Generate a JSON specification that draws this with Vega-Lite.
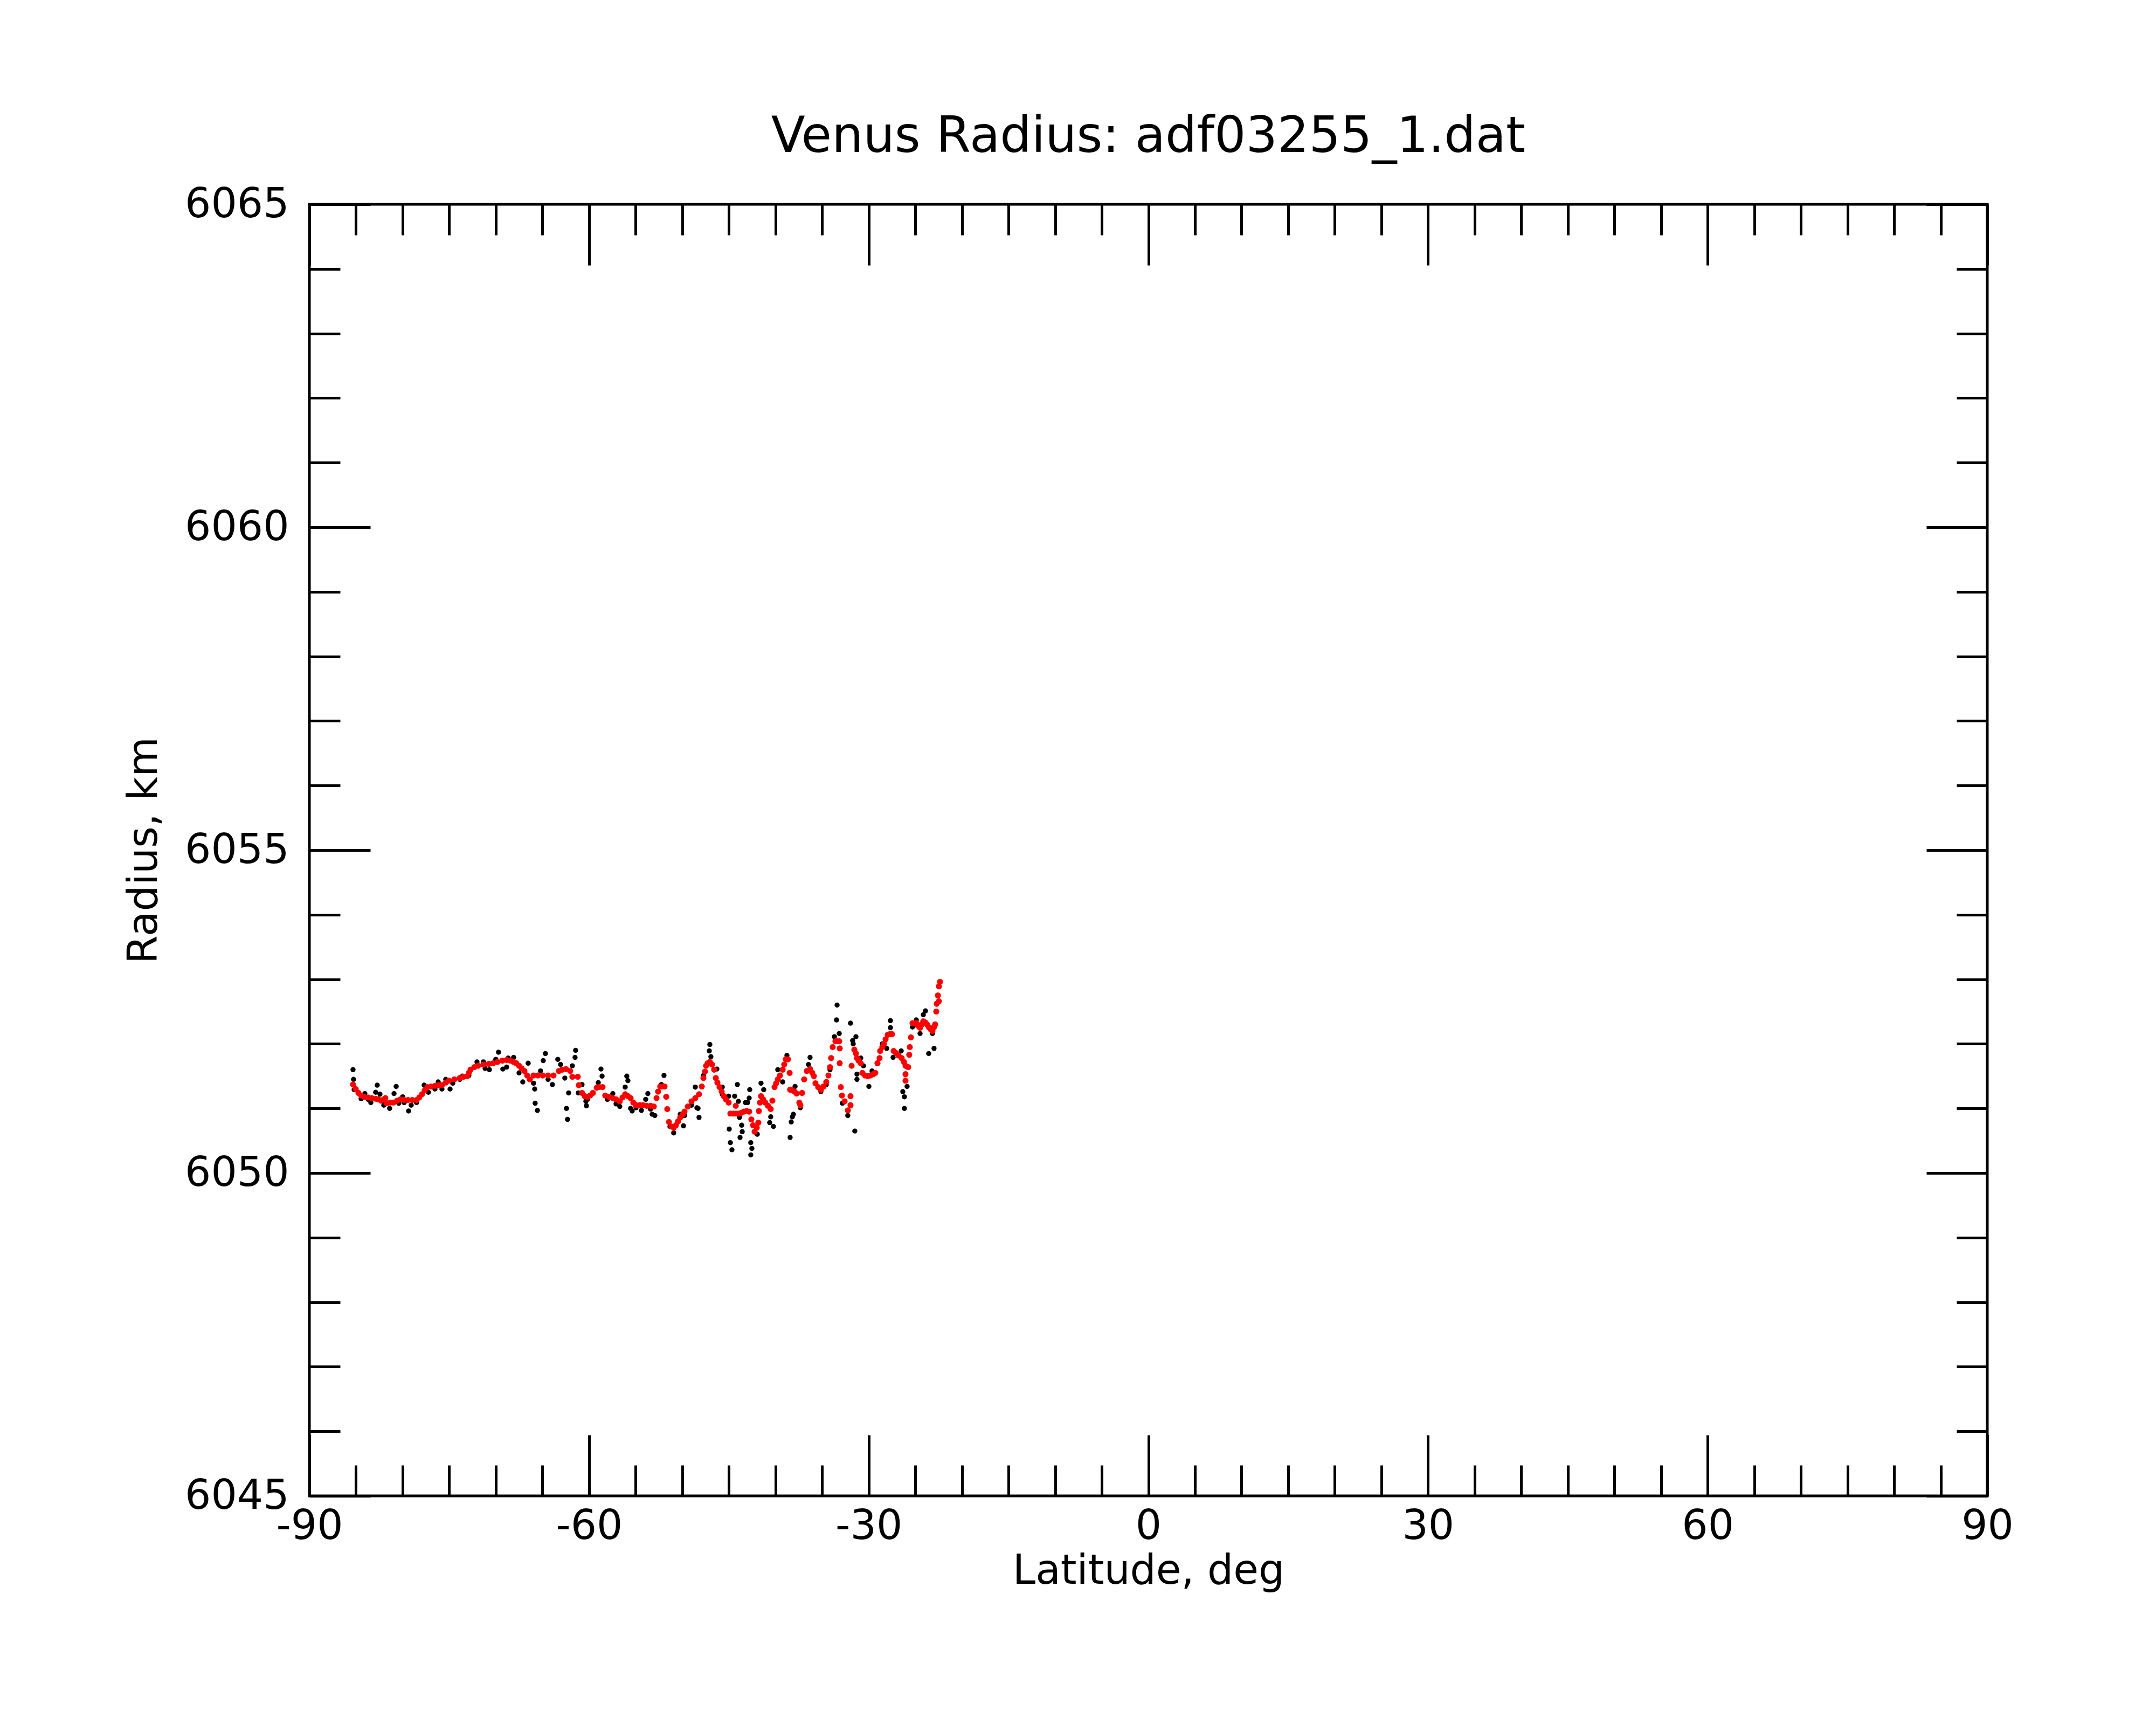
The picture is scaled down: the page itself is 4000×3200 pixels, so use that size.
{
  "$schema": "https://vega.github.io/schema/vega-lite/v6.json",
  "width": 3113,
  "height": 2396,
  "autosize": {"type": "none"},
  "padding": {"left": 574, "top": 379, "right": 313, "bottom": 425},
  "background": "white",
  "title": {
    "text": "Venus Radius: adf03255_1.dat",
    "font": "DejaVu Sans",
    "fontSize": 92,
    "fontWeight": "normal",
    "color": "black",
    "anchor": "middle",
    "baseline": "alphabetic",
    "offset": 97,
    "dy": 130
  },
  "datasets": {
    "raw": [
      {"lat": -85.32, "radius": 6051.60}, {"lat": -85.26, "radius": 6051.45}, {"lat": -85.20, "radius": 6051.29},
      {"lat": -84.45, "radius": 6051.15}, {"lat": -84.05, "radius": 6051.23}, {"lat": -83.70, "radius": 6051.14},
      {"lat": -83.41, "radius": 6051.09}, {"lat": -82.89, "radius": 6051.25}, {"lat": -82.72, "radius": 6051.36},
      {"lat": -82.43, "radius": 6051.22}, {"lat": -82.02, "radius": 6051.05}, {"lat": -81.85, "radius": 6051.07},
      {"lat": -81.39, "radius": 6051.00}, {"lat": -80.92, "radius": 6051.23}, {"lat": -80.69, "radius": 6051.34},
      {"lat": -80.41, "radius": 6051.08}, {"lat": -80.00, "radius": 6051.18}, {"lat": -79.83, "radius": 6051.09},
      {"lat": -79.36, "radius": 6050.96}, {"lat": -79.08, "radius": 6051.05}, {"lat": -78.50, "radius": 6051.09},
      {"lat": -77.69, "radius": 6051.36}, {"lat": -77.23, "radius": 6051.25}, {"lat": -76.53, "radius": 6051.30},
      {"lat": -76.18, "radius": 6051.41}, {"lat": -75.78, "radius": 6051.30}, {"lat": -75.37, "radius": 6051.45},
      {"lat": -74.91, "radius": 6051.30}, {"lat": -74.62, "radius": 6051.39}, {"lat": -73.87, "radius": 6051.45},
      {"lat": -73.58, "radius": 6051.50}, {"lat": -72.89, "radius": 6051.51}, {"lat": -72.02, "radius": 6051.72},
      {"lat": -71.33, "radius": 6051.72}, {"lat": -71.15, "radius": 6051.62}, {"lat": -70.69, "radius": 6051.60},
      {"lat": -70.00, "radius": 6051.76}, {"lat": -69.71, "radius": 6051.87}, {"lat": -69.25, "radius": 6051.61},
      {"lat": -68.84, "radius": 6051.64}, {"lat": -68.67, "radius": 6051.78}, {"lat": -68.09, "radius": 6051.79},
      {"lat": -67.51, "radius": 6051.55}, {"lat": -67.11, "radius": 6051.41}, {"lat": -66.53, "radius": 6051.70},
      {"lat": -65.95, "radius": 6051.39}, {"lat": -65.83, "radius": 6051.30}, {"lat": -65.78, "radius": 6051.08},
      {"lat": -65.54, "radius": 6050.97}, {"lat": -65.20, "radius": 6051.58}, {"lat": -64.91, "radius": 6051.74},
      {"lat": -64.68, "radius": 6051.85}, {"lat": -64.39, "radius": 6051.45}, {"lat": -63.93, "radius": 6051.37},
      {"lat": -63.35, "radius": 6051.76}, {"lat": -63.06, "radius": 6051.68}, {"lat": -62.60, "radius": 6051.47},
      {"lat": -62.42, "radius": 6051.00}, {"lat": -62.31, "radius": 6050.83}, {"lat": -62.19, "radius": 6051.24},
      {"lat": -61.79, "radius": 6051.66}, {"lat": -61.50, "radius": 6051.79}, {"lat": -61.44, "radius": 6051.90},
      {"lat": -61.15, "radius": 6051.24}, {"lat": -60.75, "radius": 6051.37}, {"lat": -60.34, "radius": 6051.11},
      {"lat": -60.28, "radius": 6051.04}, {"lat": -60.17, "radius": 6051.14}, {"lat": -59.01, "radius": 6051.40},
      {"lat": -58.72, "radius": 6051.61}, {"lat": -58.60, "radius": 6051.50}, {"lat": -58.03, "radius": 6051.14},
      {"lat": -57.45, "radius": 6051.23}, {"lat": -57.10, "radius": 6051.07}, {"lat": -56.70, "radius": 6051.03},
      {"lat": -56.12, "radius": 6051.33}, {"lat": -55.95, "radius": 6051.50}, {"lat": -55.83, "radius": 6051.43},
      {"lat": -55.54, "radius": 6051.00}, {"lat": -55.37, "radius": 6050.96}, {"lat": -54.96, "radius": 6051.01},
      {"lat": -54.38, "radius": 6050.97}, {"lat": -53.92, "radius": 6051.14}, {"lat": -53.69, "radius": 6051.23},
      {"lat": -53.40, "radius": 6050.99}, {"lat": -53.23, "radius": 6050.91}, {"lat": -52.94, "radius": 6050.89},
      {"lat": -52.24, "radius": 6051.37}, {"lat": -51.96, "radius": 6051.51}, {"lat": -51.32, "radius": 6050.72},
      {"lat": -50.92, "radius": 6050.62}, {"lat": -50.22, "radius": 6050.91}, {"lat": -49.87, "radius": 6050.73},
      {"lat": -49.76, "radius": 6050.89}, {"lat": -49.01, "radius": 6051.05}, {"lat": -48.60, "radius": 6051.33},
      {"lat": -48.43, "radius": 6051.01}, {"lat": -48.31, "radius": 6051.00}, {"lat": -48.20, "radius": 6050.86},
      {"lat": -47.73, "radius": 6051.51}, {"lat": -47.10, "radius": 6051.89}, {"lat": -47.04, "radius": 6051.99},
      {"lat": -46.93, "radius": 6051.80}, {"lat": -46.29, "radius": 6051.61}, {"lat": -45.71, "radius": 6051.33},
      {"lat": -45.71, "radius": 6051.22}, {"lat": -45.02, "radius": 6051.19}, {"lat": -44.96, "radius": 6050.68},
      {"lat": -44.84, "radius": 6050.47}, {"lat": -44.67, "radius": 6050.36}, {"lat": -44.38, "radius": 6051.19},
      {"lat": -44.09, "radius": 6051.37}, {"lat": -43.98, "radius": 6051.11}, {"lat": -43.86, "radius": 6050.86},
      {"lat": -43.80, "radius": 6050.55}, {"lat": -43.63, "radius": 6050.74}, {"lat": -43.57, "radius": 6050.64},
      {"lat": -43.22, "radius": 6051.09}, {"lat": -42.99, "radius": 6051.09}, {"lat": -42.82, "radius": 6051.16},
      {"lat": -42.76, "radius": 6051.29}, {"lat": -42.65, "radius": 6050.47}, {"lat": -42.53, "radius": 6050.38},
      {"lat": -42.65, "radius": 6050.28}, {"lat": -41.95, "radius": 6050.60}, {"lat": -41.55, "radius": 6051.39},
      {"lat": -41.26, "radius": 6051.29}, {"lat": -40.62, "radius": 6050.78}, {"lat": -40.51, "radius": 6050.87},
      {"lat": -40.22, "radius": 6050.72}, {"lat": -39.75, "radius": 6051.60}, {"lat": -39.23, "radius": 6051.41},
      {"lat": -38.77, "radius": 6051.82}, {"lat": -38.43, "radius": 6050.55}, {"lat": -38.31, "radius": 6050.79},
      {"lat": -38.19, "radius": 6050.87}, {"lat": -38.08, "radius": 6050.91}, {"lat": -37.90, "radius": 6051.34},
      {"lat": -37.33, "radius": 6051.01}, {"lat": -36.46, "radius": 6051.68}, {"lat": -36.29, "radius": 6051.79},
      {"lat": -35.13, "radius": 6051.26}, {"lat": -34.55, "radius": 6051.37}, {"lat": -34.15, "radius": 6051.60},
      {"lat": -33.68, "radius": 6052.11}, {"lat": -33.45, "radius": 6052.37}, {"lat": -33.39, "radius": 6052.60},
      {"lat": -33.16, "radius": 6052.16}, {"lat": -32.82, "radius": 6051.08}, {"lat": -32.24, "radius": 6050.89},
      {"lat": -31.95, "radius": 6052.32}, {"lat": -31.72, "radius": 6052.05}, {"lat": -31.66, "radius": 6052.00},
      {"lat": -31.49, "radius": 6050.65}, {"lat": -31.37, "radius": 6052.11}, {"lat": -31.26, "radius": 6051.53},
      {"lat": -31.26, "radius": 6051.45}, {"lat": -30.85, "radius": 6051.78}, {"lat": -30.56, "radius": 6051.66},
      {"lat": -29.98, "radius": 6051.34}, {"lat": -29.64, "radius": 6051.58}, {"lat": -28.54, "radius": 6052.00},
      {"lat": -28.07, "radius": 6051.93}, {"lat": -27.67, "radius": 6052.36}, {"lat": -27.67, "radius": 6052.25},
      {"lat": -27.38, "radius": 6051.79}, {"lat": -26.51, "radius": 6051.89}, {"lat": -26.34, "radius": 6051.26},
      {"lat": -26.17, "radius": 6051.18}, {"lat": -26.17, "radius": 6051.00}, {"lat": -25.88, "radius": 6051.34},
      {"lat": -25.30, "radius": 6052.26}, {"lat": -24.89, "radius": 6052.37}, {"lat": -24.49, "radius": 6052.16},
      {"lat": -24.14, "radius": 6052.45}, {"lat": -23.91, "radius": 6052.51}, {"lat": -23.56, "radius": 6051.85},
      {"lat": -23.16, "radius": 6052.16}, {"lat": -22.99, "radius": 6051.93}
    ],
    "smooth": [
      {"lat": -85.32, "radius": 6051.37}, {"lat": -85.03, "radius": 6051.30}, {"lat": -84.74, "radius": 6051.24},
      {"lat": -84.45, "radius": 6051.20}, {"lat": -84.11, "radius": 6051.18}, {"lat": -83.70, "radius": 6051.17},
      {"lat": -83.30, "radius": 6051.16}, {"lat": -82.89, "radius": 6051.15}, {"lat": -82.60, "radius": 6051.14},
      {"lat": -82.31, "radius": 6051.12}, {"lat": -82.02, "radius": 6051.14}, {"lat": -81.85, "radius": 6051.16},
      {"lat": -81.68, "radius": 6051.08}, {"lat": -81.33, "radius": 6051.09}, {"lat": -80.98, "radius": 6051.09},
      {"lat": -80.58, "radius": 6051.12}, {"lat": -80.23, "radius": 6051.14}, {"lat": -79.83, "radius": 6051.13},
      {"lat": -79.42, "radius": 6051.13}, {"lat": -78.96, "radius": 6051.13}, {"lat": -78.50, "radius": 6051.13},
      {"lat": -78.21, "radius": 6051.17}, {"lat": -77.92, "radius": 6051.22}, {"lat": -77.63, "radius": 6051.28},
      {"lat": -77.34, "radius": 6051.33}, {"lat": -76.94, "radius": 6051.34}, {"lat": -76.53, "radius": 6051.35},
      {"lat": -76.18, "radius": 6051.36}, {"lat": -75.78, "radius": 6051.36}, {"lat": -75.37, "radius": 6051.40},
      {"lat": -75.03, "radius": 6051.43}, {"lat": -74.45, "radius": 6051.45}, {"lat": -73.87, "radius": 6051.47},
      {"lat": -73.47, "radius": 6051.49}, {"lat": -73.06, "radius": 6051.50}, {"lat": -72.89, "radius": 6051.55},
      {"lat": -72.71, "radius": 6051.60}, {"lat": -72.31, "radius": 6051.64}, {"lat": -71.90, "radius": 6051.66},
      {"lat": -71.33, "radius": 6051.68}, {"lat": -70.75, "radius": 6051.69}, {"lat": -70.29, "radius": 6051.70},
      {"lat": -69.82, "radius": 6051.72}, {"lat": -69.30, "radius": 6051.74}, {"lat": -68.84, "radius": 6051.75},
      {"lat": -68.44, "radius": 6051.74}, {"lat": -68.09, "radius": 6051.72}, {"lat": -67.80, "radius": 6051.70},
      {"lat": -67.51, "radius": 6051.66}, {"lat": -67.22, "radius": 6051.62}, {"lat": -66.93, "radius": 6051.58},
      {"lat": -66.64, "radius": 6051.51}, {"lat": -66.35, "radius": 6051.45}, {"lat": -65.95, "radius": 6051.51},
      {"lat": -65.49, "radius": 6051.51}, {"lat": -64.97, "radius": 6051.51}, {"lat": -64.39, "radius": 6051.51},
      {"lat": -63.81, "radius": 6051.51}, {"lat": -63.23, "radius": 6051.58}, {"lat": -62.88, "radius": 6051.60},
      {"lat": -62.48, "radius": 6051.61}, {"lat": -62.02, "radius": 6051.58}, {"lat": -61.79, "radius": 6051.49},
      {"lat": -61.21, "radius": 6051.49}, {"lat": -61.09, "radius": 6051.36}, {"lat": -60.75, "radius": 6051.24},
      {"lat": -60.46, "radius": 6051.19}, {"lat": -60.17, "radius": 6051.18}, {"lat": -59.88, "radius": 6051.20},
      {"lat": -59.59, "radius": 6051.24}, {"lat": -59.18, "radius": 6051.32}, {"lat": -58.89, "radius": 6051.33},
      {"lat": -58.55, "radius": 6051.33}, {"lat": -58.26, "radius": 6051.20}, {"lat": -57.85, "radius": 6051.18},
      {"lat": -57.45, "radius": 6051.16}, {"lat": -57.10, "radius": 6051.14}, {"lat": -56.70, "radius": 6051.11},
      {"lat": -56.41, "radius": 6051.17}, {"lat": -56.12, "radius": 6051.22}, {"lat": -55.83, "radius": 6051.19},
      {"lat": -55.54, "radius": 6051.16}, {"lat": -55.25, "radius": 6051.09}, {"lat": -54.96, "radius": 6051.05},
      {"lat": -54.56, "radius": 6051.05}, {"lat": -54.21, "radius": 6051.05}, {"lat": -53.81, "radius": 6051.04},
      {"lat": -53.40, "radius": 6051.04}, {"lat": -53.05, "radius": 6051.03}, {"lat": -52.76, "radius": 6051.16},
      {"lat": -52.59, "radius": 6051.26}, {"lat": -52.36, "radius": 6051.34}, {"lat": -52.13, "radius": 6051.34},
      {"lat": -51.90, "radius": 6051.34}, {"lat": -51.72, "radius": 6051.18}, {"lat": -51.61, "radius": 6050.99},
      {"lat": -51.43, "radius": 6050.79}, {"lat": -51.15, "radius": 6050.72}, {"lat": -50.92, "radius": 6050.70},
      {"lat": -50.68, "radius": 6050.74}, {"lat": -50.45, "radius": 6050.80}, {"lat": -50.22, "radius": 6050.86},
      {"lat": -49.93, "radius": 6050.91}, {"lat": -49.76, "radius": 6050.95}, {"lat": -49.41, "radius": 6051.03},
      {"lat": -49.01, "radius": 6051.11}, {"lat": -48.60, "radius": 6051.16}, {"lat": -48.20, "radius": 6051.22},
      {"lat": -47.91, "radius": 6051.34}, {"lat": -47.73, "radius": 6051.47}, {"lat": -47.56, "radius": 6051.57},
      {"lat": -47.44, "radius": 6051.66}, {"lat": -47.27, "radius": 6051.70}, {"lat": -47.04, "radius": 6051.72},
      {"lat": -46.81, "radius": 6051.68}, {"lat": -46.58, "radius": 6051.60}, {"lat": -46.40, "radius": 6051.47},
      {"lat": -46.23, "radius": 6051.40}, {"lat": -46.00, "radius": 6051.33}, {"lat": -45.77, "radius": 6051.26},
      {"lat": -45.54, "radius": 6051.19}, {"lat": -45.31, "radius": 6051.14}, {"lat": -45.02, "radius": 6051.09},
      {"lat": -44.84, "radius": 6050.92}, {"lat": -44.55, "radius": 6050.92}, {"lat": -44.26, "radius": 6051.04},
      {"lat": -44.26, "radius": 6050.92}, {"lat": -43.98, "radius": 6050.92}, {"lat": -43.69, "radius": 6050.93},
      {"lat": -43.40, "radius": 6050.95}, {"lat": -43.11, "radius": 6050.96}, {"lat": -42.82, "radius": 6050.95},
      {"lat": -42.59, "radius": 6050.83}, {"lat": -42.41, "radius": 6050.74}, {"lat": -42.24, "radius": 6050.64},
      {"lat": -42.01, "radius": 6050.70}, {"lat": -41.84, "radius": 6050.78}, {"lat": -41.78, "radius": 6050.96},
      {"lat": -41.66, "radius": 6051.09}, {"lat": -41.55, "radius": 6051.19}, {"lat": -41.32, "radius": 6051.14},
      {"lat": -41.09, "radius": 6051.09}, {"lat": -40.80, "radius": 6051.04}, {"lat": -40.51, "radius": 6050.99},
      {"lat": -40.33, "radius": 6051.12}, {"lat": -40.10, "radius": 6051.33}, {"lat": -39.93, "radius": 6051.39},
      {"lat": -39.75, "radius": 6051.45}, {"lat": -39.52, "radius": 6051.51}, {"lat": -39.23, "radius": 6051.60},
      {"lat": -39.06, "radius": 6051.68}, {"lat": -38.89, "radius": 6051.76}, {"lat": -38.66, "radius": 6051.76},
      {"lat": -38.48, "radius": 6051.55}, {"lat": -38.43, "radius": 6051.29}, {"lat": -38.19, "radius": 6051.28},
      {"lat": -37.96, "radius": 6051.26}, {"lat": -37.73, "radius": 6051.23}, {"lat": -37.44, "radius": 6051.09},
      {"lat": -37.33, "radius": 6051.05}, {"lat": -37.15, "radius": 6051.24}, {"lat": -36.92, "radius": 6051.45},
      {"lat": -36.63, "radius": 6051.58}, {"lat": -36.29, "radius": 6051.61}, {"lat": -36.05, "radius": 6051.55},
      {"lat": -35.88, "radius": 6051.50}, {"lat": -35.71, "radius": 6051.39}, {"lat": -35.42, "radius": 6051.33},
      {"lat": -35.13, "radius": 6051.29}, {"lat": -34.84, "radius": 6051.34}, {"lat": -34.55, "radius": 6051.41},
      {"lat": -34.32, "radius": 6051.51}, {"lat": -34.15, "radius": 6051.64}, {"lat": -34.03, "radius": 6051.78},
      {"lat": -33.86, "radius": 6051.95}, {"lat": -33.57, "radius": 6052.04}, {"lat": -33.39, "radius": 6052.04},
      {"lat": -33.16, "radius": 6052.04}, {"lat": -33.11, "radius": 6051.93}, {"lat": -33.11, "radius": 6051.70},
      {"lat": -32.99, "radius": 6051.33}, {"lat": -32.87, "radius": 6051.20}, {"lat": -32.58, "radius": 6051.11},
      {"lat": -32.24, "radius": 6050.97}, {"lat": -31.95, "radius": 6051.05}, {"lat": -31.95, "radius": 6051.19},
      {"lat": -31.83, "radius": 6051.66}, {"lat": -31.54, "radius": 6051.91}, {"lat": -31.37, "radius": 6051.85},
      {"lat": -31.26, "radius": 6051.78}, {"lat": -31.08, "radius": 6051.74}, {"lat": -30.85, "radius": 6051.70},
      {"lat": -30.68, "radius": 6051.55}, {"lat": -30.39, "radius": 6051.51}, {"lat": -30.10, "radius": 6051.50},
      {"lat": -29.81, "radius": 6051.51}, {"lat": -29.52, "radius": 6051.53}, {"lat": -29.29, "radius": 6051.55},
      {"lat": -29.06, "radius": 6051.70}, {"lat": -28.83, "radius": 6051.78}, {"lat": -28.77, "radius": 6051.89},
      {"lat": -28.54, "radius": 6051.95}, {"lat": -28.36, "radius": 6052.00}, {"lat": -28.19, "radius": 6052.07},
      {"lat": -27.96, "radius": 6052.14}, {"lat": -27.73, "radius": 6052.15}, {"lat": -27.50, "radius": 6052.15},
      {"lat": -27.32, "radius": 6051.89}, {"lat": -27.09, "radius": 6051.86}, {"lat": -26.80, "radius": 6051.82},
      {"lat": -26.46, "radius": 6051.78}, {"lat": -26.22, "radius": 6051.72}, {"lat": -26.05, "radius": 6051.66},
      {"lat": -26.05, "radius": 6051.53}, {"lat": -26.05, "radius": 6051.43}, {"lat": -25.76, "radius": 6051.64},
      {"lat": -25.65, "radius": 6051.83}, {"lat": -25.59, "radius": 6051.95}, {"lat": -25.47, "radius": 6052.10},
      {"lat": -25.30, "radius": 6052.32}, {"lat": -25.07, "radius": 6052.32}, {"lat": -24.89, "radius": 6052.32},
      {"lat": -24.72, "radius": 6052.28}, {"lat": -24.49, "radius": 6052.25}, {"lat": -24.32, "radius": 6052.30},
      {"lat": -24.14, "radius": 6052.35}, {"lat": -23.91, "radius": 6052.33}, {"lat": -23.74, "radius": 6052.30},
      {"lat": -23.56, "radius": 6052.26}, {"lat": -23.33, "radius": 6052.22}, {"lat": -23.16, "radius": 6052.20},
      {"lat": -22.99, "radius": 6052.26}, {"lat": -22.87, "radius": 6052.30}, {"lat": -22.75, "radius": 6052.50},
      {"lat": -22.70, "radius": 6052.62}, {"lat": -22.47, "radius": 6052.66}, {"lat": -22.58, "radius": 6052.75},
      {"lat": -22.47, "radius": 6052.89}, {"lat": -22.35, "radius": 6052.96}
    ]
  },
  "layer": [
    {
      "data": {"name": "raw"},
      "mark": {"type": "circle", "color": "black", "size": 90, "opacity": 1},
      "encoding": {
        "x": {
          "field": "lat", "type": "quantitative",
          "scale": {"domain": [-90, 90], "nice": false, "zero": false},
          "axis": {
            "orient": "bottom", "values": [-90, -60, -30, 0, 30, 60, 90],
            "ticks": false, "tickSize": 0, "labelPadding": 19,
            "labelExpr": "'' + datum.value",
            "labelFlush": false, "labelOverlap": false, "labelLimit": 0,
            "title": "Latitude, deg", "titlePadding": 8
          }
        },
        "y": {
          "field": "radius", "type": "quantitative",
          "scale": {"domain": [6045, 6065], "nice": false, "zero": false},
          "axis": {
            "orient": "left", "values": [6045, 6050, 6055, 6060, 6065],
            "ticks": false, "tickSize": 0, "labelPadding": 38,
            "labelExpr": "'' + datum.value",
            "labelFlush": false, "labelOverlap": false, "labelLimit": 0,
            "title": "Radius, km", "titlePadding": 68
          }
        }
      }
    },
    {
      "data": {"name": "smooth"},
      "mark": {"type": "circle", "color": "#ff0000", "size": 125, "opacity": 1},
      "encoding": {
        "x": {
          "field": "lat", "type": "quantitative",
          "axis": {"orient": "bottom", "values": [-90, -60, -30, 0, 30, 60, 90], "labels": false, "title": null, "tickSize": -113}
        },
        "y": {
          "field": "radius", "type": "quantitative",
          "axis": {"orient": "left", "values": [6045, 6050, 6055, 6060, 6065], "labels": false, "title": null, "tickSize": -113}
        }
      }
    },
    {
      "data": {"name": "raw"},
      "mark": {"type": "circle", "opacity": 0},
      "encoding": {
        "x": {
          "field": "lat", "type": "quantitative",
          "axis": {"orient": "top", "values": [-90, -60, -30, 0, 30, 60, 90], "labels": false, "title": null, "tickSize": -113}
        },
        "y": {
          "field": "radius", "type": "quantitative",
          "axis": {"orient": "right", "values": [6045, 6050, 6055, 6060, 6065], "labels": false, "title": null, "tickSize": -113}
        }
      }
    },
    {
      "data": {"name": "raw"},
      "mark": {"type": "circle", "opacity": 0},
      "encoding": {
        "x": {
          "field": "lat", "type": "quantitative",
          "axis": {"orient": "bottom", "values": [-85, -80, -75, -70, -65, -55, -50, -45, -40, -35, -25, -20, -15, -10, -5, 5, 10, 15, 20, 25, 35, 40, 45, 50, 55, 65, 70, 75, 80, 85], "labels": false, "title": null, "tickSize": -57}
        },
        "y": {
          "field": "radius", "type": "quantitative",
          "axis": {"orient": "left", "values": [6046, 6047, 6048, 6049, 6051, 6052, 6053, 6054, 6056, 6057, 6058, 6059, 6061, 6062, 6063, 6064], "labels": false, "title": null, "tickSize": -57}
        }
      }
    },
    {
      "data": {"name": "raw"},
      "mark": {"type": "circle", "opacity": 0},
      "encoding": {
        "x": {
          "field": "lat", "type": "quantitative",
          "axis": {"orient": "top", "values": [-85, -80, -75, -70, -65, -55, -50, -45, -40, -35, -25, -20, -15, -10, -5, 5, 10, 15, 20, 25, 35, 40, 45, 50, 55, 65, 70, 75, 80, 85], "labels": false, "title": null, "tickSize": -57}
        },
        "y": {
          "field": "radius", "type": "quantitative",
          "axis": {"orient": "right", "values": [6046, 6047, 6048, 6049, 6051, 6052, 6053, 6054, 6056, 6057, 6058, 6059, 6061, 6062, 6063, 6064], "labels": false, "title": null, "tickSize": -57}
        }
      }
    }
  ],
  "resolve": {"axis": {"x": "independent", "y": "independent"}},
  "config": {
    "view": {"stroke": "black", "strokeWidth": 5, "fill": "white"},
    "axis": {
      "domain": false,
      "grid": false,
      "tickColor": "black",
      "tickWidth": 5,
      "labelFont": "DejaVu Sans",
      "labelFontSize": 76,
      "labelColor": "black",
      "titleFont": "DejaVu Sans",
      "titleFontSize": 76,
      "titleFontWeight": "normal",
      "titleColor": "black"
    }
  }
}
